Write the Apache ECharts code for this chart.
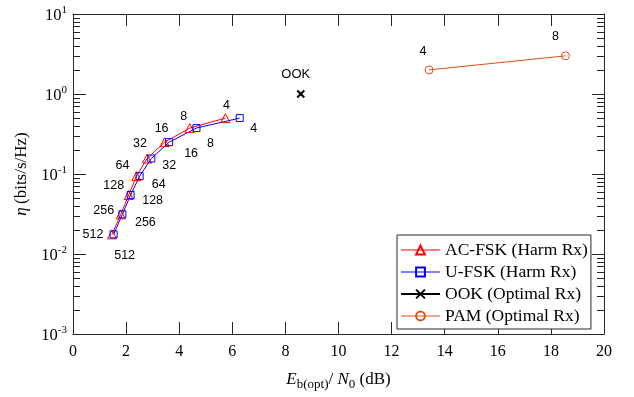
<!DOCTYPE html>
<html><head><meta charset="utf-8">
<script src="https://cdn.jsdelivr.net/npm/echarts@6/dist/echarts.min.js"></script>
<style>html,body{margin:0;padding:0;background:#fff}#c{width:634px;height:397px}</style>
</head><body><div id="c"></div>
<script>
// ---- data ----
const fskOrders = [4, 8, 16, 32, 64, 128, 256, 512];
const acfskX = [5.74, 4.40, 3.45, 2.79, 2.39, 2.10, 1.80, 1.47];
const acfskEta = [0.5, 0.375, 0.25, 0.156, 0.094, 0.0547, 0.0313, 0.0176];
const ufskX = [6.28, 4.65, 3.62, 2.95, 2.51, 2.17, 1.86, 1.53];
const ufskEta = [0.5, 0.375, 0.25, 0.156, 0.094, 0.0547, 0.0313, 0.0176];
const ookX = [8.58];
const ookEta = [1.0];
const ookLabels = ['OOK'];
const pamOrders = [4, 8];
const pamX = [13.41, 18.55];
const pamEta = [2.0, 3.0];
const seriesNames = ['AC-FSK (Harm Rx)', 'U-FSK (Harm Rx)', 'OOK (Optimal Rx)', 'PAM (Optimal Rx)'];
const yDecades = [-3, -2, -1, 0, 1];
const minorMultipliers = [2, 3, 4, 5, 6, 7, 8, 9];

// ---- layout (label offsets in px) ----
const acfskLabelOffsets = [[1,-13],[-6,-12],[-3,-14],[-7,-15],[-14,-11],[-15,-9],[-17,-4],[-19,0]];
const ufskLabelOffsets = [[14,10],[14,15],[22,11],[18,7],[19,8],[22,6],[23,8],[11,21]];
const ookLabelOffsets = [[-5,-20]];
const pamLabelOffsets = [[-6,-18],[-10,-19]];
const legendLineWidths = [1, 1, 2, 1];

const AX = '#262626';
const serif = 'Liberation Serif';
const sans = 'Liberation Sans';

function pts(xs, ys, labels, offs) {
  return xs.map((x, i) => ({
    value: [x, ys[i]],
    label: { show: true, formatter: String(labels[i]), offset: offs[i] }
  }));
}
const minorData = [];
yDecades.slice(0, -1).forEach(e => minorMultipliers.forEach(m => minorData.push([0, m * Math.pow(10, e)])));

const labelBase = { show: true, position: 'inside', color: '#000', fontFamily: sans, fontSize: 12.5 };

const chart = echarts.init(document.getElementById('c'));
chart.setOption({
  animation: false,
  backgroundColor: '#fff',
  grid: { left: 73, top: 14, right: 30, bottom: 63 },
  xAxis: [{
    type: 'value', min: 0, max: 20, interval: 2, position: 'bottom',
    axisLine: { show: true, onZero: false, lineStyle: { color: AX, width: 1 } },
    axisTick: { show: true, inside: true, length: 12, lineStyle: { color: AX } },
    axisLabel: { color: '#000', fontFamily: serif, fontSize: 16, margin: 10 },
    splitLine: { show: false },
    name: '{i|E}{sub|b(opt)}{n|/ }{i|N}{sub|0}{n| (dB)}',
    nameLocation: 'middle', nameGap: 34,
    nameTextStyle: {
      rich: {
        i: { fontFamily: serif, fontStyle: 'italic', fontSize: 17, color: '#000' },
        n: { fontFamily: serif, fontSize: 17, color: '#000' },
        sub: { fontFamily: serif, fontSize: 13, color: '#000', padding: [10, 0, 0, 0] }
      }
    }
  }, {
    type: 'value', min: 0, max: 20, interval: 2, position: 'top',
    axisLine: { show: true, onZero: false, lineStyle: { color: AX, width: 1 } },
    axisTick: { show: true, inside: true, length: 12, lineStyle: { color: AX } },
    axisLabel: { show: false }, splitLine: { show: false }
  }],
  yAxis: [{
    type: 'log', logBase: 10, min: 0.001, max: 10, splitNumber: 4, position: 'left',
    axisLine: { show: true, onZero: false, lineStyle: { color: AX, width: 1 } },
    axisTick: { show: true, inside: true, length: 13, lineStyle: { color: AX } },
    axisLabel: {
      margin: 6,
      formatter: v => '{b|10}{s|' + Math.round(Math.log10(v)) + '}',
      rich: {
        b: { fontFamily: serif, fontSize: 16.5, color: '#000', padding: [3, 0, 0, 0] },
        s: { fontFamily: serif, fontSize: 11, color: '#000', padding: [0, 0, 8, 0] }
      }
    },
    splitLine: { show: false },
    name: '{i|η} {n|(bits/s/Hz)}',
    nameLocation: 'middle', nameGap: 41, nameRotate: 90,
    nameTextStyle: {
      rich: {
        i: { fontFamily: serif, fontStyle: 'italic', fontSize: 17, color: '#000' },
        n: { fontFamily: serif, fontSize: 17, color: '#000' }
      }
    }
  }, {
    type: 'log', logBase: 10, min: 0.001, max: 10, splitNumber: 4, position: 'right',
    axisLine: { show: true, onZero: false, lineStyle: { color: AX, width: 1 } },
    axisTick: { show: true, inside: true, length: 12, lineStyle: { color: AX } },
    axisLabel: { show: false }, splitLine: { show: false }
  }],
  legend: {
    data: seriesNames.map((n, i) => ({ name: n, lineStyle: { width: legendLineWidths[i] } })),
    orient: 'vertical', left: 397, top: 235,
    backgroundColor: '#fff', borderColor: AX, borderWidth: 1,
    padding: [6, 3, 4, 3],
    itemWidth: 39, itemHeight: 11, itemGap: 4,
    textStyle: { fontFamily: serif, fontSize: 17.5, color: '#000', lineHeight: 17 },
    selectedMode: false
  },
  series: [{
    type: 'custom', name: 'minorTicks', coordinateSystem: 'cartesian2d', silent: true, clip: false,
    encode: { x: 0, y: 1 },
    data: minorData,
    renderItem: (params, api) => {
      const p = api.coord([0, api.value(1)]);
      const cs = params.coordSys;
      const y = Math.round(p[1]) + 0.5;
      const st = { stroke: AX, lineWidth: 1 };
      return { type: 'group', children: [
        { type: 'line', shape: { x1: cs.x, y1: y, x2: cs.x + 7, y2: y }, style: st },
        { type: 'line', shape: { x1: cs.x + cs.width - 7, y1: y, x2: cs.x + cs.width, y2: y }, style: st }
      ]};
    }
  }, {
    type: 'line', name: seriesNames[0], symbol: 'triangle', symbolSize: 9,
    lineStyle: { color: '#ff0000', width: 1 },
    itemStyle: { color: 'rgba(255,255,255,0)', borderColor: '#ff0000', borderWidth: 1 },
    label: labelBase,
    data: pts(acfskX, acfskEta, fskOrders, acfskLabelOffsets), z: 3
  }, {
    type: 'line', name: seriesNames[1], symbol: 'rect', symbolSize: 7,
    lineStyle: { color: '#0000ff', width: 1 },
    itemStyle: { color: 'rgba(255,255,255,0)', borderColor: '#0000ff', borderWidth: 1 },
    label: labelBase,
    data: pts(ufskX, ufskEta, fskOrders, ufskLabelOffsets), z: 3
  }, {
    type: 'line', name: seriesNames[2], symbol: 'path://M0 0L10 10M10 0L0 10', symbolSize: 7,
    lineStyle: { color: '#000', width: 2 },
    itemStyle: { color: '#000', borderColor: '#000', borderWidth: 2 },
    label: Object.assign({}, labelBase, { fontSize: 13 }),
    data: pts(ookX, ookEta, ookLabels, ookLabelOffsets), z: 3
  }, {
    type: 'line', name: seriesNames[3], symbol: 'circle', symbolSize: 8,
    lineStyle: { color: '#d95319', width: 1 },
    itemStyle: { color: 'rgba(255,255,255,0)', borderColor: '#d95319', borderWidth: 1 },
    label: labelBase,
    data: pts(pamX, pamEta, pamOrders, pamLabelOffsets), z: 3
  }]
});
</script></body></html>
